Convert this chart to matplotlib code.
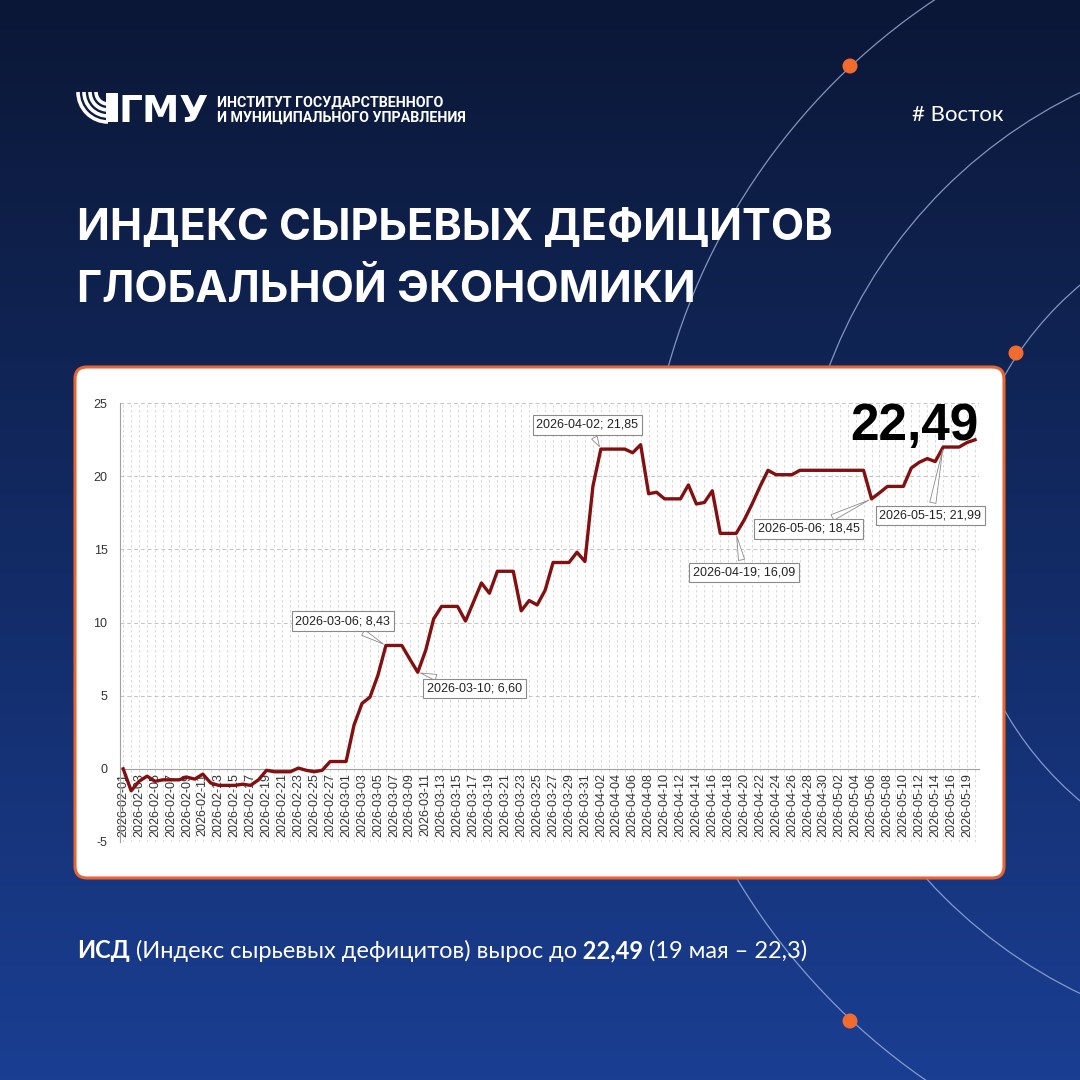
import numpy as np
import pandas as pd
import matplotlib
matplotlib.use('Agg')
import matplotlib.pyplot as plt
from matplotlib.patches import FancyBboxPatch, Circle, Arc

plt.rcParams['axes.unicode_minus'] = False

# --- data ---
dates = pd.date_range('2026-02-01', '2026-05-20').drop(pd.Timestamp('2026-05-17'))
labels = dates.strftime('%Y-%m-%d').tolist()

values = [
    0.00, -1.50, -0.85, -0.50, -0.85, -0.75, -0.75, -0.75, -0.57, -0.70,
    -0.36, -0.97, -1.13, -1.13, -1.13, -1.05, -1.13, -0.75, -0.10, -0.20,
    -0.20, -0.20, 0.05, -0.10, -0.20, -0.10, 0.50, 0.50, 0.50, 3.00,
    4.47, 4.90, 6.40, 8.43, 8.43, 8.43, 7.50, 6.60, 8.10, 10.25,
    11.10, 11.10, 11.10, 10.10, 11.40, 12.70, 12.00, 13.50, 13.50, 13.50,
    10.80, 11.50, 11.20, 12.20, 14.10, 14.10, 14.10, 14.80, 14.17, 19.30,
    21.85, 21.85, 21.85, 21.85, 21.60, 22.15, 18.80, 18.90, 18.45, 18.45,
    18.45, 19.40, 18.10, 18.20, 19.00, 16.09, 16.09, 16.09, 17.00, 18.10,
    19.30, 20.40, 20.10, 20.10, 20.10, 20.40, 20.40, 20.40, 20.40, 20.40,
    20.40, 20.40, 20.40, 20.40, 18.45, 18.86, 19.30, 19.30, 19.30, 20.56,
    20.95, 21.20, 21.00, 21.99, 21.99, 21.99, 22.30, 22.49,
]

callout_dates = ['2026-03-06', '2026-03-10', '2026-04-02', '2026-04-19', '2026-05-06', '2026-05-15']
callout_boxes = [(27.6, 10.1), (44.1, 5.5), (58.3, 23.5), (78.0, 13.4), (86.1, 16.4), (101.4, 17.3)]

latest = '22,49'
title = 'ИНДЕКС СЫРЬЕВЫХ ДЕФИЦИТОВ\nГЛОБАЛЬНОЙ ЭКОНОМИКИ'
caption = [('ИСД', 'bold'), (' (Индекс сырьевых дефицитов) вырос до', 'normal'),
           (' 22,49', 'bold'), (' (19 мая – 22,3)', 'normal')]

fig = plt.figure(figsize=(10.8, 10.8), dpi=100)

# background
bg = fig.add_axes([0, 0, 1, 1])
bg.set_xlim(0, 1080)
bg.set_ylim(1080, 0)
bg.axis('off')
top = np.array([11, 23, 54]) / 255
bot = np.array([26, 62, 146]) / 255
t = np.linspace(0, 1, 256)[:, None, None]
grad = top + (bot - top) * t
grad = np.repeat(grad, 2, axis=1)
bg.imshow(grad, extent=[0, 1080, 1080, 0], aspect='auto', zorder=0)

for r in [653, 500, 337]:
    bg.add_patch(Circle((1297, 543), r, fill=False, ec='#9fb2dd', lw=0.9, alpha=0.8, zorder=1))
for cx, cy in [(850, 66), (1016, 353), (850, 1021)]:
    bg.add_patch(Circle((cx, cy), 7.5, fc='#f26b2e', ec='none', zorder=2))

bg.add_patch(FancyBboxPatch((75, 367), 929, 511, boxstyle='round,pad=0,rounding_size=12',
                            fc='white', ec='#e8652f', lw=2.2, zorder=3))

# logo
for rr in [30, 24, 18, 12]:
    bg.add_patch(Arc((108, 92), 2 * rr, 2 * rr, theta1=90, theta2=180, ec='white', lw=2.6, zorder=4))
bg.add_patch(plt.Rectangle((106, 93), 12, 29, fc='white', ec='none', zorder=4))
bg.text(119, 122, 'ГМУ', color='white', fontsize=27, fontweight='bold',
        family='DejaVu Sans', va='baseline', ha='left', zorder=4)
logo_font = ['DejaVu Sans Condensed', 'Roboto']
bg.text(217, 107, 'ИНСТИТУТ ГОСУДАРСТВЕННОГО', color='white', fontsize=10.3, fontweight='bold',
        family=logo_font, va='baseline')
bg.text(217, 122, 'И МУНИЦИПАЛЬНОГО УПРАВЛЕНИЯ', color='white', fontsize=10.3, fontweight='bold',
        family=logo_font, va='baseline')
bg.text(1003, 121, '# Восток', color='white', fontsize=16, family='Lato',
        va='baseline', ha='right')

# title
lines = title.split('\n')
bg.text(77, 240, lines[0], color='white', fontsize=31, fontweight='bold', family='Inter', va='baseline')
bg.text(77, 302, lines[1], color='white', fontsize=31, fontweight='bold', family='Inter', va='baseline')

# caption
renderer = fig.canvas.get_renderer()
x = 77
for txt, w in caption:
    tt = bg.text(x, 958, txt, color='white', fontsize=17, fontweight=w, family='Lato', va='baseline')
    x = tt.get_window_extent(renderer).x1

# chart
ax = fig.add_axes([120 / 1080, (1080 - 842) / 1080, 859 / 1080, 439 / 1080])
ax.patch.set_alpha(0)
ax.set_zorder(5)
idx = np.arange(len(values))
ax.plot(idx, values, color='#831010', lw=2.4, zorder=3)
ax.set_xlim(-0.4, len(values) - 0.5)
ax.set_ylim(-5, 25)
ax.set_yticks(range(-5, 26, 5))
ax.set_xticks(idx[::2])
ax.set_xticklabels(labels[::2])
ax.set_xticks(idx, minor=True)
ax.tick_params(axis='both', which='both', length=0, labelsize=9, labelcolor='#333333',
               labelfontfamily='Liberation Sans')
ax.tick_params(axis='x', which='major', pad=3, labelrotation=90)
ax.tick_params(axis='y', pad=9)
ax.grid(axis='x', which='both', ls=(0, (3, 3)), color='#d2d2d2', lw=0.6)
ax.grid(axis='y', which='major', ls=(0, (4, 3)), color='#c4c4c4', lw=0.7)
ax.set_axisbelow(True)
for s in ['top', 'right']:
    ax.spines[s].set_visible(False)
ax.spines['bottom'].set_position(('data', 0))
ax.spines['bottom'].set_color('#a0a0a0')
ax.spines['left'].set_color('#a0a0a0')
ax.spines['bottom'].set_linewidth(0.8)
ax.spines['left'].set_linewidth(0.8)

for d, (bx, by) in zip(callout_dates, callout_boxes):
    i = labels.index(d)
    v = values[i]
    ax.annotate(f'{d}; {v:.2f}'.replace('.', ','), xy=(i, v), xytext=(bx, by), textcoords='data',
                ha='center', va='center', fontsize=9, family='Liberation Sans', color='#222222',
                bbox=dict(boxstyle='square,pad=0.3', fc='white', ec='#8a8a8a', lw=0.8),
                arrowprops=dict(arrowstyle='wedge,tail_width=0.5,shrink_factor=0.5',
                                fc='white', ec='#8a8a8a', lw=0.6),
                zorder=6, annotation_clip=False)

bg2 = fig.add_axes([0, 0, 1, 1])
bg2.set_xlim(0, 1080)
bg2.set_ylim(1080, 0)
bg2.axis('off')
bg2.set_zorder(6)
bg2.text(978, 427, latest, fontsize=37, fontweight='bold', ha='right', va='center',
         family=['DejaVu Sans Condensed', 'Liberation Sans'], color='black')

fig.savefig('out.png', dpi=100)
